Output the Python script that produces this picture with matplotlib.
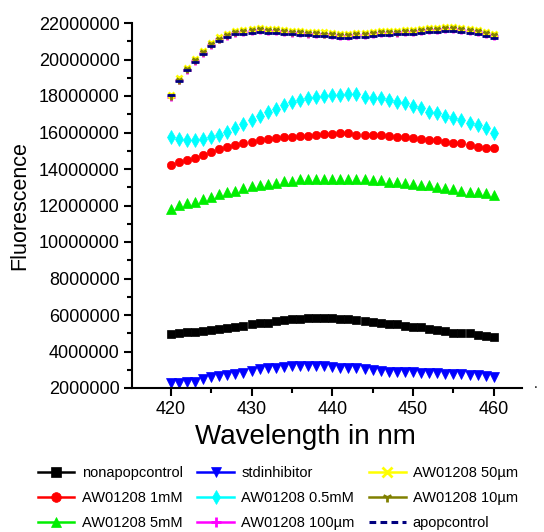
import matplotlib
matplotlib.use("Agg")
import matplotlib.pyplot as plt
from matplotlib.lines import Line2D
from matplotlib.ticker import MultipleLocator, FuncFormatter

plt.rcParams['font.family'] = ['Liberation Sans', 'DejaVu Sans']

wavelength = list(range(420, 461))

nonapopcontrol = [4.94, 5.03, 5.08, 5.08, 5.14, 5.18, 5.21, 5.27, 5.36, 5.40,
                  5.51, 5.55, 5.58, 5.67, 5.74, 5.79, 5.79, 5.82, 5.86, 5.82,
                  5.82, 5.76, 5.76, 5.73, 5.69, 5.63, 5.58, 5.51, 5.50, 5.40,
                  5.36, 5.32, 5.21, 5.18, 5.14, 5.03, 5.03, 4.99, 4.90, 4.85, 4.81]
aw_1mM = [14.22, 14.37, 14.50, 14.62, 14.77, 14.95, 15.10, 15.22, 15.32, 15.41,
          15.50, 15.59, 15.64, 15.68, 15.73, 15.77, 15.82, 15.82, 15.86, 15.90,
          15.92, 15.95, 15.95, 15.88, 15.86, 15.86, 15.85, 15.82, 15.77, 15.76,
          15.68, 15.67, 15.59, 15.58, 15.50, 15.42, 15.40, 15.32, 15.22, 15.17, 15.13]
aw_5mM = [11.79, 12.03, 12.12, 12.21, 12.34, 12.48, 12.61, 12.72, 12.79, 12.94,
          13.07, 13.12, 13.18, 13.25, 13.34, 13.34, 13.43, 13.44, 13.45, 13.45,
          13.43, 13.43, 13.43, 13.43, 13.43, 13.42, 13.40, 13.30, 13.30, 13.21,
          13.20, 13.12, 13.11, 13.00, 12.98, 12.88, 12.81, 12.76, 12.74, 12.67, 12.58]
stdinhibitor = [2.29, 2.25, 2.35, 2.35, 2.47, 2.58, 2.66, 2.71, 2.77, 2.84,
                2.95, 3.02, 3.08, 3.08, 3.15, 3.20, 3.22, 3.22, 3.22, 3.20,
                3.17, 3.12, 3.10, 3.08, 3.02, 2.99, 2.95, 2.90, 2.90, 2.88,
                2.86, 2.82, 2.80, 2.80, 2.79, 2.77, 2.75, 2.72, 2.71, 2.65, 2.63]
aw_05mM = [15.77, 15.64, 15.59, 15.59, 15.64, 15.77, 15.86, 16.05, 16.26, 16.45,
           16.70, 16.90, 17.14, 17.30, 17.50, 17.65, 17.80, 17.90, 17.97, 18.00,
           18.05, 18.05, 18.10, 18.10, 17.97, 17.87, 17.87, 17.76, 17.68, 17.60,
           17.47, 17.32, 17.14, 17.05, 16.92, 16.78, 16.68, 16.54, 16.40, 16.26, 15.99]
aw_100um = [17.92, 18.85, 19.45, 19.90, 20.35, 20.80, 21.10, 21.30, 21.45, 21.50,
            21.55, 21.60, 21.57, 21.55, 21.50, 21.47, 21.45, 21.42, 21.40, 21.37,
            21.33, 21.31, 21.31, 21.32, 21.35, 21.40, 21.45, 21.45, 21.47, 21.50,
            21.51, 21.55, 21.60, 21.61, 21.65, 21.65, 21.61, 21.57, 21.51, 21.41, 21.30]
aw_50um = [18.03, 18.96, 19.55, 20.01, 20.46, 20.91, 21.21, 21.41, 21.56, 21.61,
           21.66, 21.71, 21.68, 21.66, 21.61, 21.58, 21.56, 21.53, 21.51, 21.48,
           21.44, 21.42, 21.42, 21.43, 21.46, 21.51, 21.56, 21.56, 21.58, 21.61,
           21.62, 21.66, 21.71, 21.72, 21.76, 21.76, 21.72, 21.68, 21.62, 21.52, 21.41]
aw_10um = [17.98, 18.90, 19.50, 19.95, 20.40, 20.85, 21.15, 21.35, 21.50, 21.55,
           21.60, 21.65, 21.62, 21.60, 21.55, 21.52, 21.50, 21.47, 21.45, 21.42,
           21.38, 21.36, 21.36, 21.37, 21.40, 21.45, 21.50, 21.50, 21.52, 21.55,
           21.56, 21.60, 21.65, 21.66, 21.70, 21.70, 21.66, 21.62, 21.56, 21.46, 21.35]
apopcontrol = [18.05, 18.80, 19.40, 19.85, 20.28, 20.72, 21.02, 21.22, 21.37, 21.42,
               21.47, 21.50, 21.47, 21.45, 21.40, 21.37, 21.35, 21.32, 21.30, 21.27,
               21.22, 21.20, 21.20, 21.21, 21.25, 21.30, 21.35, 21.35, 21.37, 21.40,
               21.41, 21.45, 21.50, 21.51, 21.55, 21.55, 21.51, 21.47, 21.41, 21.31, 21.20]

labels = ['nonapopcontrol', 'AW01208 1mM', 'AW01208 5mM', 'stdinhibitor',
          'AW01208 0.5mM', 'AW01208 100\u00b5m', 'AW01208 50\u00b5m',
          'AW01208 10\u00b5m', 'apopcontrol']
series = [nonapopcontrol, aw_1mM, aw_5mM, stdinhibitor, aw_05mM, aw_100um,
          aw_50um, aw_10um, apopcontrol]
colors = ['#000000', '#FF0000', '#00EE00', '#0000FF', '#00FFFF', '#FF00FF',
          '#FFFF00', '#808000', '#000080']
markers = ['s', 'o', '^', 'v', 'd', '+', 'x', '1', '_']
msizes = [5.5, 6, 7, 7, 7.5, 6, 5, 6, 6]

fig = plt.figure(figsize=(5.44, 5.32), dpi=100)
ax = fig.add_axes([132/544, 1 - 388/532, 390/544, 365/532])

for vals, c, m, ms in zip(series, colors, markers, msizes):
    y = [v * 1e6 for v in vals]
    mew = 2.0 if m in ('+', 'x', '1', '_') else 0.5
    ax.plot(wavelength, y, linestyle='none', marker=m, markersize=ms,
            color=c, markeredgecolor=c, markeredgewidth=mew)

ax.set_xlim(415.2, 463.5)
ax.set_ylim(2e6, 22e6)
ax.xaxis.set_major_locator(MultipleLocator(10))
ax.xaxis.set_minor_locator(MultipleLocator(5))
ax.yaxis.set_major_locator(MultipleLocator(2e6))
ax.yaxis.set_minor_locator(MultipleLocator(1e6))
ax.yaxis.set_major_formatter(FuncFormatter(lambda v, p: f"{int(round(v))}"))
ax.xaxis.set_major_formatter(FuncFormatter(lambda v, p: f"{int(round(v))}"))

for s in ['top', 'right']:
    ax.spines[s].set_visible(False)
for s in ['left', 'bottom']:
    ax.spines[s].set_linewidth(1.5)
ax.tick_params(which='major', direction='out', length=6, width=1.5,
               labelsize=13, pad=3)
ax.tick_params(which='minor', direction='out', length=3.5, width=1.5)

ax.set_xlabel('Wavelength in nm', fontsize=20)
ax.xaxis.set_label_coords((305 - 132) / 390, (388 - 437) / 365 * 1.0)
ax.xaxis.label.set_va('center')
ax.set_ylabel('Fluorescence', fontsize=15.5, labelpad=6)

handles = []
for c, m, lab in zip(colors, markers, labels):
    if m == '_':
        h = Line2D([], [], color=c, linestyle=(0, (2.2, 1.4)), linewidth=2.2)
    else:
        mew = 2.0 if m in ('+', 'x', '1') else 0.5
        h = Line2D([], [], color=c, linewidth=1.8, alpha=1, marker=m,
                   markersize=7, markeredgewidth=mew, markeredgecolor=c)
    handles.append(h)

fig.legend(handles, labels, loc='upper left', bbox_to_anchor=(38/544, 1 - 466/532),
           ncol=3, frameon=False, fontsize=10.5, handlelength=2.5,
           handletextpad=0.5, columnspacing=1.0, labelspacing=0.75,
           borderpad=0, borderaxespad=0)

fig.text(534/544, 1 - 388/532, '.', fontsize=10)

fig.savefig('out.png', dpi=100)
